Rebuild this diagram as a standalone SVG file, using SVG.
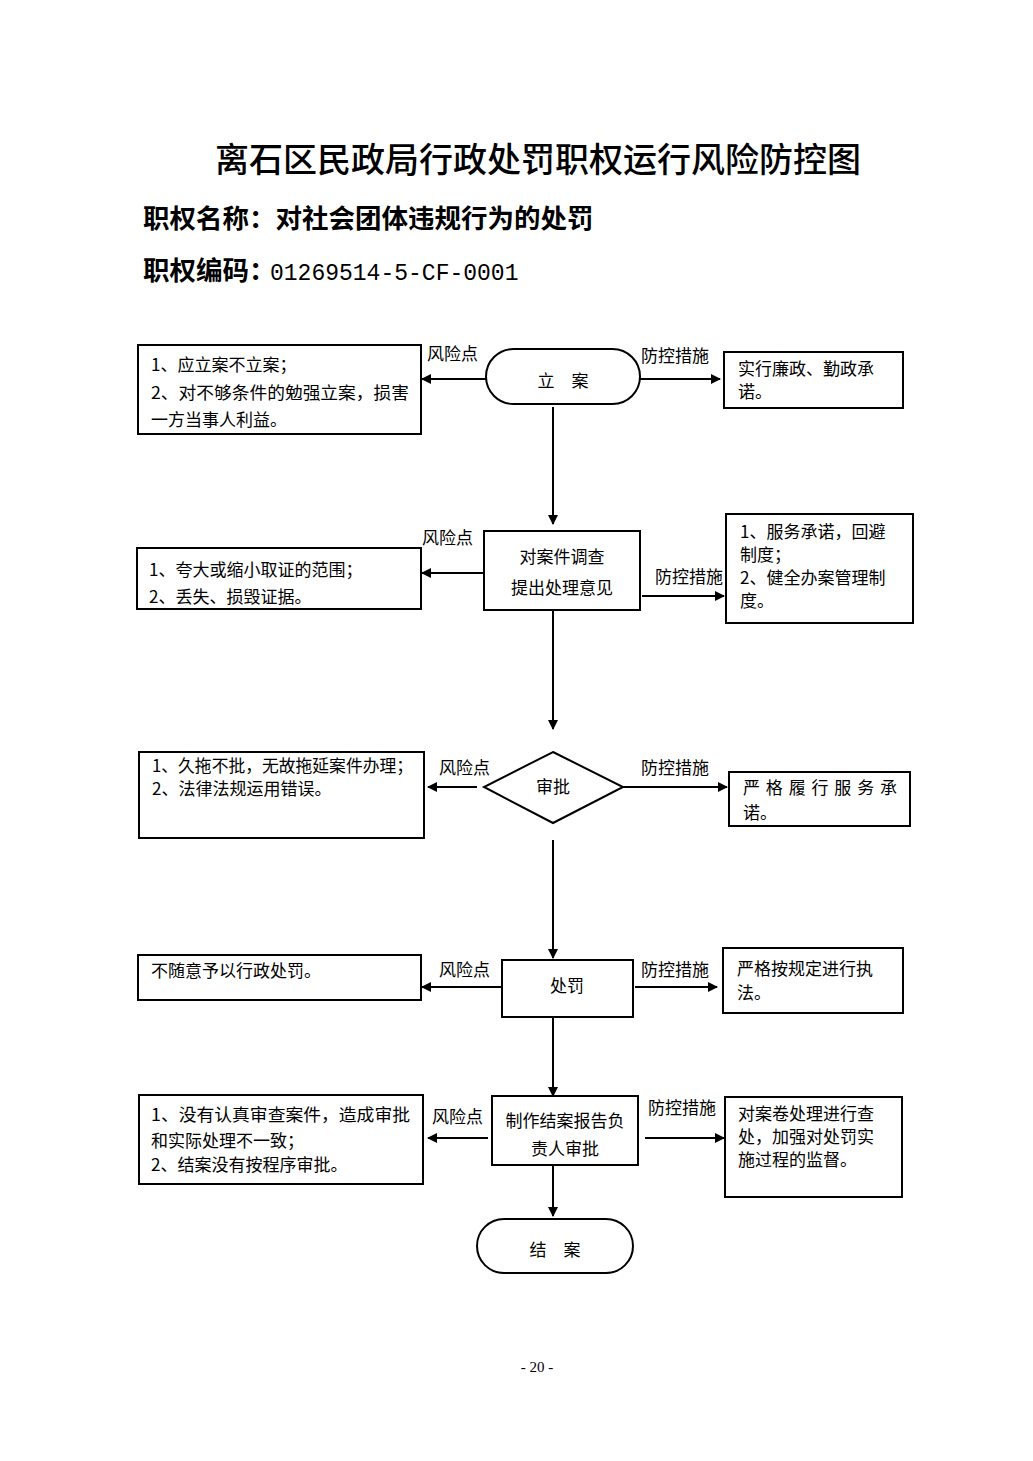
<svg xmlns="http://www.w3.org/2000/svg" width="1033" height="1461" viewBox="0 0 1033 1461">
<defs>
<marker id="ah" markerWidth="10" markerHeight="10" refX="9" refY="5" orient="auto" markerUnits="userSpaceOnUse"><path d="M0,0 L10,5 L0,10 Z" fill="#000"/></marker>
<style>
.b{fill:#fff;stroke:#000;stroke-width:2}
.t{font-family:"Noto Sans CJK SC","Noto Sans CJK JP",sans-serif;font-size:17px;fill:#000}
.c{text-anchor:middle}
.l{font-family:"Noto Sans CJK SC","Noto Sans CJK JP",sans-serif;font-size:17px;fill:#000}
.a{stroke:#000;stroke-width:2;fill:none;marker-end:url(#ah)}
</style>
</defs>
<rect width="1033" height="1461" fill="#fff"/>
<g id="header">
<text x="538" y="172" text-anchor="middle" font-family="Noto Sans CJK SC, sans-serif" font-size="34" font-weight="500">离石区民政局行政处罚职权运行风险防控图</text>
<text x="143" y="228" font-family="Noto Sans CJK SC, sans-serif" font-size="26.5" font-weight="bold">职权名称：对社会团体违规行为的处罚</text>
<text x="143" y="280" font-family="Noto Sans CJK SC, sans-serif" font-size="26.5" font-weight="bold">职权编码：<tspan x="270" font-family="Liberation Mono, monospace" font-size="23" font-weight="normal">01269514-5-CF-0001</tspan></text>
</g>
<g id="connectors">
<line class="a" x1="486" y1="379" x2="422" y2="379"/>
<line class="a" x1="640" y1="379" x2="720" y2="379"/>
<line class="a" x1="553" y1="407" x2="553" y2="524"/>
<line class="a" x1="484" y1="573" x2="422" y2="573"/>
<line class="a" x1="642" y1="596" x2="724" y2="596"/>
<line class="a" x1="553" y1="610" x2="553" y2="729"/>
<line class="a" x1="477" y1="787" x2="428" y2="787"/>
<line class="a" x1="623" y1="787" x2="727" y2="787"/>
<line class="a" x1="553" y1="840" x2="553" y2="958"/>
<line class="a" x1="502" y1="987" x2="422" y2="987"/>
<line class="a" x1="635" y1="987" x2="717" y2="987"/>
<line class="a" x1="553" y1="1017" x2="553" y2="1096"/>
<line class="a" x1="488" y1="1138" x2="428" y2="1138"/>
<line class="a" x1="645" y1="1138" x2="724" y2="1138"/>
<line class="a" x1="553" y1="1165" x2="553" y2="1216"/>
<text class="l" x="427" y="360">风险点</text>
<text class="l" x="641" y="362">防控措施</text>
<text class="l" x="422" y="544">风险点</text>
<text class="l" x="655" y="583">防控措施</text>
<text class="l" x="439" y="774">风险点</text>
<text class="l" x="641" y="774">防控措施</text>
<text class="l" x="439" y="976">风险点</text>
<text class="l" x="641" y="976">防控措施</text>
<text class="l" x="432" y="1123">风险点</text>
<text class="l" x="648" y="1114">防控措施</text>
</g>
<g id="n-start">
<rect class="b" x="486" y="349" width="154" height="55" rx="27.5"/>
<text class="t c" x="563" y="387">立　案</text>
</g>
<g id="n-risk1">
<rect class="b" x="138" y="345" width="283" height="89"/>
<text class="t" x="151" y="371">1、应立案不立案；</text>
<text class="t" x="151" y="399" textLength="258" lengthAdjust="spacingAndGlyphs">2、对不够条件的勉强立案，损害</text>
<text class="t" x="151" y="426">一方当事人利益。</text>
</g>
<g id="n-ctrl1">
<rect class="b" x="724" y="352" width="179" height="56"/>
<text class="t" x="738" y="375">实行廉政、勤政承</text>
<text class="t" x="738" y="398">诺。</text>
</g>
<g id="n-investigate">
<rect class="b" x="484" y="531" width="156" height="79"/>
<text class="t c" x="562" y="563">对案件调查</text>
<text class="t c" x="562" y="594">提出处理意见</text>
</g>
<g id="n-risk2">
<rect class="b" x="137" y="548" width="284" height="61"/>
<text class="t" x="149" y="576">1、夸大或缩小取证的范围；</text>
<text class="t" x="149" y="603">2、丢失、损毁证据。</text>
</g>
<g id="n-ctrl2">
<rect class="b" x="726" y="514" width="187" height="109"/>
<text class="t" x="740" y="538">1、服务承诺，回避</text>
<text class="t" x="740" y="561">制度；</text>
<text class="t" x="740" y="584">2、健全办案管理制</text>
<text class="t" x="740" y="607">度。</text>
</g>
<g id="n-approve">
<polygon class="b" points="553,752 623,787 553,823 484,787"/>
<text class="t c" x="553" y="793">审批</text>
</g>
<g id="n-risk3">
<rect class="b" x="139" y="752" width="285" height="86"/>
<text class="t" x="152" y="772" textLength="261" lengthAdjust="spacingAndGlyphs">1、久拖不批，无故拖延案件办理；</text>
<text class="t" x="152" y="795">2、法律法规运用错误。</text>
</g>
<g id="n-ctrl3">
<rect class="b" x="729" y="772" width="181" height="54"/>
<text class="t" x="743" y="794" textLength="154" lengthAdjust="spacing">严格履行服务承</text>
<text class="t" x="743" y="819">诺。</text>
</g>
<g id="n-punish">
<rect class="b" x="502" y="960" width="131" height="57"/>
<text class="t c" x="567" y="992">处罚</text>
</g>
<g id="n-risk4">
<rect class="b" x="138" y="955" width="283" height="45"/>
<text class="t" x="151" y="977">不随意予以行政处罚。</text>
</g>
<g id="n-ctrl4">
<rect class="b" x="723" y="948" width="180" height="65"/>
<text class="t" x="737" y="975">严格按规定进行执</text>
<text class="t" x="737" y="999">法。</text>
</g>
<g id="n-report">
<rect class="b" x="492" y="1096" width="146" height="69"/>
<text class="t c" x="565" y="1127">制作结案报告负</text>
<text class="t c" x="565" y="1155">责人审批</text>
</g>
<g id="n-risk5">
<rect class="b" x="139" y="1095" width="284" height="89"/>
<text class="t" x="151" y="1121" textLength="259" lengthAdjust="spacingAndGlyphs">1、没有认真审查案件，造成审批</text>
<text class="t" x="151" y="1147">和实际处理不一致；</text>
<text class="t" x="151" y="1171">2、结案没有按程序审批。</text>
</g>
<g id="n-ctrl5">
<rect class="b" x="725" y="1097" width="177" height="100"/>
<text class="t" x="738" y="1120">对案卷处理进行查</text>
<text class="t" x="738" y="1143">处，加强对处罚实</text>
<text class="t" x="738" y="1166">施过程的监督。</text>
</g>
<g id="n-end">
<rect class="b" x="477" y="1219" width="156" height="54" rx="27"/>
<text class="t c" x="555" y="1256">结　案</text>
</g>
<text x="537" y="1372" text-anchor="middle" font-family="Liberation Serif, serif" font-size="15">- 20 -</text>
</svg>
